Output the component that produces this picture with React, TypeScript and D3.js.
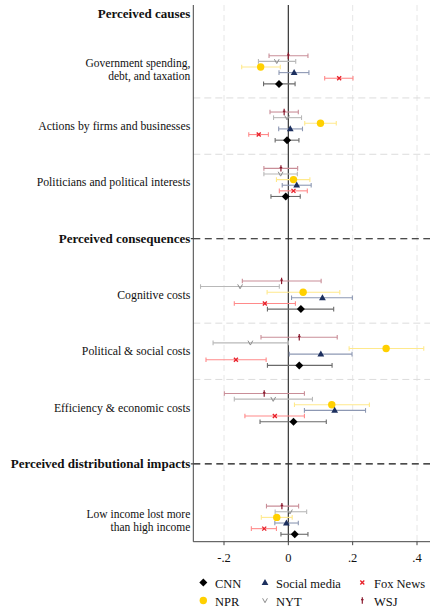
import React from "react";
import * as d3 from "d3";

// ---------- data ----------
const rowLabels: string[][] = [
  ["Perceived causes"],
  ["Government spending,", "debt, and taxation"],
  ["Actions by firms and businesses"],
  ["Politicians and political interests"],
  ["Perceived consequences"],
  ["Cognitive costs"],
  ["Political & social costs"],
  ["Efficiency & economic costs"],
  ["Perceived distributional impacts"],
  ["Low income lost more", "than high income"],
];
const headerRows = [0, 4, 8];
const outcomeRows = [1, 2, 3, 5, 6, 7, 9];
const separatorRows = [1.5, 2.5, 5.5, 6.5];
const xTicks = [-0.2, 0, 0.2, 0.4];
const xTickLabels = ["-.2", "0", ".2", ".4"];

const seriesNames = ["WSJ", "NYT", "NPR", "Social media", "Fox News", "CNN"];

const wsjEst = [0.0, -0.013, -0.023, -0.021, 0.034, -0.075, -0.02];
const wsjLo = [-0.06, -0.057, -0.076, -0.143, -0.085, -0.199, -0.068];
const wsjHi = [0.061, 0.031, 0.029, 0.102, 0.152, 0.05, 0.032];

const nytEst = [-0.036, -0.004, -0.024, -0.15, -0.118, -0.047, 0.005];
const nytLo = [-0.093, -0.046, -0.076, -0.273, -0.234, -0.168, -0.041];
const nytHi = [0.023, 0.041, 0.028, -0.028, 0.0, 0.075, 0.057];

const nprEst = [-0.086, 0.1, 0.016, 0.046, 0.304, 0.135, -0.036];
const nprLo = [-0.145, 0.051, -0.037, -0.066, 0.189, 0.019, -0.084];
const nprHi = [-0.025, 0.149, 0.067, 0.16, 0.421, 0.252, 0.012];

const socialEst = [0.018, 0.006, 0.026, 0.106, 0.101, 0.144, -0.006];
const socialLo = [-0.029, -0.03, -0.019, 0.01, 0.003, 0.05, -0.042];
const socialHi = [0.064, 0.044, 0.071, 0.199, 0.198, 0.24, 0.031];

const foxEst = [0.158, -0.092, 0.016, -0.073, -0.163, -0.042, -0.075];
const foxLo = [0.113, -0.123, -0.028, -0.168, -0.256, -0.135, -0.115];
const foxHi = [0.201, -0.062, 0.059, 0.022, -0.069, 0.05, -0.037];

const cnnEst = [-0.029, -0.004, -0.008, 0.039, 0.034, 0.016, 0.02];
const cnnLo = [-0.077, -0.041, -0.054, -0.065, -0.065, -0.088, -0.023];
const cnnHi = [0.021, 0.033, 0.037, 0.141, 0.136, 0.118, 0.061];

const seriesEst = [wsjEst, nytEst, nprEst, socialEst, foxEst, cnnEst];
const seriesLo = [wsjLo, nytLo, nprLo, socialLo, foxLo, cnnLo];
const seriesHi = [wsjHi, nytHi, nprHi, socialHi, foxHi, cnnHi];
const seriesOffset = [-0.25, -0.15, -0.05, 0.05, 0.15, 0.25];

const legendOrder = ["CNN", "Social media", "Fox News", "NPR", "NYT", "WSJ"];

// ---------- styles ----------
const markerColor: Record<string, string> = {
  WSJ: "#8b1a2e",
  NYT: "#8c8c8c",
  NPR: "#ffd000",
  "Social media": "#1c2f5e",
  "Fox News": "#e8202a",
  CNN: "#000000",
};
const ciColor: Record<string, string> = {
  WSJ: "#c98e98",
  NYT: "#b8b8b8",
  NPR: "#ffe98c",
  "Social media": "#8d98b3",
  "Fox News": "#ff8a8a",
  CNN: "#6a6a6a",
};

const FONT = "'Liberation Serif', 'Times New Roman', serif";

function Marker({ name, x, y }: { name: string; x: number; y: number }) {
  const c = markerColor[name];
  if (name === "CNN") {
    const r = 4;
    return <polygon points={`${x},${y - r} ${x + r},${y} ${x},${y + r} ${x - r},${y}`} fill={c} />;
  }
  if (name === "NPR") return <circle cx={x} cy={y} r={3.7} fill={c} />;
  if (name === "Social media") {
    return <polygon points={`${x},${y - 3.6} ${x + 3.4},${y + 2.4} ${x - 3.4},${y + 2.4}`} fill={c} />;
  }
  if (name === "NYT") {
    return (
      <polyline
        points={`${x - 2.4},${y - 2.2} ${x},${y + 2.2} ${x + 2.4},${y - 2.2}`}
        fill="none"
        stroke={c}
        strokeWidth={1}
      />
    );
  }
  if (name === "Fox News") {
    const s = 2;
    return (
      <g stroke={c} strokeWidth={1.3}>
        <line x1={x - s} y1={y - s} x2={x + s} y2={y + s} />
        <line x1={x - s} y1={y + s} x2={x + s} y2={y - s} />
      </g>
    );
  }
  // WSJ
  return (
    <g stroke={c} strokeWidth={1.2}>
      <line x1={x} y1={y - 3.2} x2={x} y2={y + 3.2} />
      <line x1={x - 1.3} y1={y - 0.8} x2={x + 1.3} y2={y - 0.8} />
    </g>
  );
}

export default function App() {
  const W = 430;
  const H = 607;
  const left = 193.3;
  const right = 430;
  const top = 5;
  const bottom = 541.7;

  const x = d3.scaleLinear().domain([-0.2, 0.4]).range([224.0, 417.0]);
  const xLeftVal = x.invert(left);
  const xRightVal = x.invert(right);
  const xs = d3.scaleLinear().domain([xLeftVal, xRightVal]).range([left, right]);
  const y = d3.scaleLinear().domain([0, 9]).range([13.5, 13.5 + 56.3 * 9]);

  return (
    <svg width={W} height={H} style={{ position: "absolute", left: 0, top: 0 }} fontFamily={FONT}>
      <rect x={0} y={0} width={W} height={H} fill="#fff" />
      {/* vertical gridlines */}
      {xTicks
        .filter((t) => t !== 0)
        .map((t) => (
          <line
            key={"g" + t}
            x1={xs(t)}
            x2={xs(t)}
            y1={top}
            y2={bottom}
            stroke="#e6e6e6"
            strokeWidth={1}
            strokeDasharray="6,4"
          />
        ))}
      {/* separators */}
      {separatorRows.map((r) => (
        <line
          key={"s" + r}
          x1={left}
          x2={right}
          y1={y(r)}
          y2={y(r)}
          stroke="#dcdcdc"
          strokeWidth={1}
          strokeDasharray="7,4"
        />
      ))}
      {headerRows
        .filter((r) => r !== 0)
        .map((r) => (
          <g key={"h" + r}>
            <line x1={left} x2={right} y1={y(r)} y2={y(r)} stroke="#111" strokeWidth={1.1} strokeDasharray="7,4.5" />
            <line x1={left - 2.5} x2={left} y1={y(r)} y2={y(r)} stroke="#111" strokeWidth={1} />
          </g>
        ))}
      {/* zero line */}
      <line x1={xs(0)} x2={xs(0)} y1={top} y2={bottom} stroke="#333" strokeWidth={1.2} />
      {/* axes */}
      <line x1={left} x2={left} y1={top} y2={bottom} stroke="#444" strokeWidth={1} />
      <line x1={left} x2={right} y1={bottom} y2={bottom} stroke="#444" strokeWidth={1} />
      {xTicks.map((t, i) => (
        <g key={"t" + t}>
          <line x1={xs(t)} x2={xs(t)} y1={bottom} y2={bottom + 3.5} stroke="#444" strokeWidth={1} />
          <text x={xs(t)} y={bottom + 20} textAnchor="middle" fontSize={12.5} fill="#111">
            {xTickLabels[i]}
          </text>
        </g>
      ))}
      {/* row labels */}
      {rowLabels.map((lines, r) => {
        const isHeader = headerRows.includes(r);
        const lh = 13.2;
        const fs = isHeader ? 13 : lines.length > 1 ? 11.5 : 11.8;
        const y0 = y(r) - ((lines.length - 1) * lh) / 2;
        return (
          <g key={"l" + r}>
            {lines.map((ln, j) => (
              <text
                key={j}
                x={left - 3}
                y={y0 + j * lh + 4}
                textAnchor="end"
                fontSize={fs}
                fontWeight={isHeader ? "bold" : "normal"}
                fill="#111"
              >
                {ln}
              </text>
            ))}
          </g>
        );
      })}
      {/* error bars and markers */}
      {seriesNames.map((name, si) =>
        outcomeRows.map((r, oi) => {
          const yy = y(r + seriesOffset[si]);
          const lo = xs(seriesLo[si][oi]);
          const hi = xs(seriesHi[si][oi]);
          const c = ciColor[name];
          return (
            <g key={name + r}>
              <line x1={lo} x2={hi} y1={yy} y2={yy} stroke={c} strokeWidth={1.1} />
              <line x1={lo} x2={lo} y1={yy - 2.3} y2={yy + 2.3} stroke={c} strokeWidth={1.1} />
              <line x1={hi} x2={hi} y1={yy - 2.3} y2={yy + 2.3} stroke={c} strokeWidth={1.1} />
            </g>
          );
        })
      )}
      {seriesNames.map((name, si) =>
        outcomeRows.map((r, oi) => (
          <Marker key={"m" + name + r} name={name} x={xs(seriesEst[si][oi])} y={y(r + seriesOffset[si])} />
        ))
      )}
      {/* legend */}
      {legendOrder.map((name, i) => {
        const col = i % 3;
        const row = Math.floor(i / 3);
        const mx = [203.3, 265, 362.3][col];
        const tx = [215, 276, 374][col];
        const ly = [583.5, 601.5][row];
        return (
          <g key={"lg" + name}>
            <Marker name={name} x={mx} y={ly - 1} />
            <text x={tx} y={ly + 4} fontSize={12.5} fill="#111">
              {name}
            </text>
          </g>
        );
      })}
    </svg>
  );
}
